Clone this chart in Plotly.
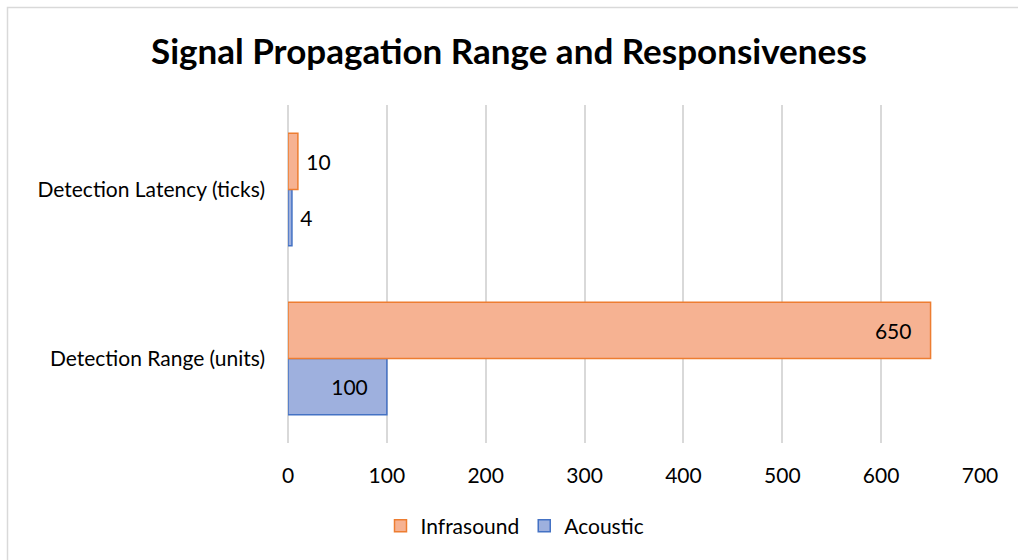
import plotly.graph_objects as go

categories = ["Detection Range (units)", "Detection Latency (ticks)"]
infrasound = [650, 10]
acoustic = [100, 4]
x_ticks = [0, 100, 200, 300, 400, 500, 600, 700]

FONT = "Lato, Calibri, Carlito, sans-serif"
W, H = 1018, 560
L, R, T, B = 288, 38, 105, 117
pw, ph = W - L - R, H - T - B

def pos(vals):
    return ["inside" if v > 50 else "outside" for v in vals]

def tmpl(vals):
    return ["%{x}\u00a0\u00a0\u00a0" if v > 50 else "\u00a0%{x}" for v in vals]

fig = go.Figure()
fig.add_trace(go.Bar(
    name="Acoustic", y=categories, x=acoustic, orientation="h",
    marker=dict(color="#9eb0de", line=dict(color="#4472c4", width=1.5)),
    texttemplate=tmpl(acoustic), textposition=pos(acoustic),
    insidetextanchor="end", textfont=dict(size=21, color="#000000", family=FONT),
    legendrank=2, hoverinfo="x+name",
))
fig.add_trace(go.Bar(
    name="Infrasound", y=categories, x=infrasound, orientation="h",
    marker=dict(color="#f6b292", line=dict(color="#ed7d31", width=1.5)),
    texttemplate=tmpl(infrasound), textposition=pos(infrasound),
    insidetextanchor="end", textfont=dict(size=21, color="#000000", family=FONT),
    legendrank=1, hoverinfo="x+name",
))

def px2x(p):
    return (p - L) / pw

def py2y(p):
    return (H - B - p) / ph

fig.update_layout(
    width=W, height=H,
    margin=dict(l=L, r=R, t=T, b=B),
    paper_bgcolor="white", plot_bgcolor="white",
    barmode="group", bargap=0.335, bargroupgap=0,
    font=dict(family=FONT, size=21, color="#000000"),
    title=dict(text="<b>Signal Propagation Range and Responsiveness</b>",
               x=0.5, xref="container", xanchor="center",
               y=1 - 52 / H, yref="container", yanchor="middle",
               font=dict(size=35, family=FONT, color="#000000")),
    xaxis=dict(range=[0, 700], tickvals=x_ticks, ticktext=[str(v) for v in x_ticks],
               showgrid=True, gridcolor="#d9d9d9", gridwidth=1.5,
               zeroline=True, zerolinecolor="#d9d9d9", zerolinewidth=1.5,
               showline=False, ticks="", ticklabelstandoff=18,
               tickfont=dict(size=21, family=FONT), fixedrange=True),
    yaxis=dict(showgrid=False, zeroline=False, showline=False, ticks="",
               ticklabelstandoff=22, tickfont=dict(size=21, family=FONT),
               categoryorder="array", categoryarray=categories),
    legend=dict(orientation="h", x=px2x(515), xanchor="center",
                y=py2y(526), yanchor="middle",
                font=dict(size=21, family=FONT), itemwidth=30,
                traceorder="normal"),
    showlegend=True,
    shapes=[dict(type="rect", xref="paper", yref="paper",
                 x0=px2x(7.5), x1=px2x(1030), y0=py2y(580), y1=py2y(7.5),
                 line=dict(color="#d9d9d9", width=1.5), fillcolor="rgba(0,0,0,0)",
                 layer="below")],
)

fig.write_html("out.html", config={"displayModeBar": False},
               post_script="document.body.style.margin='0';document.body.style.overflow='hidden';")
